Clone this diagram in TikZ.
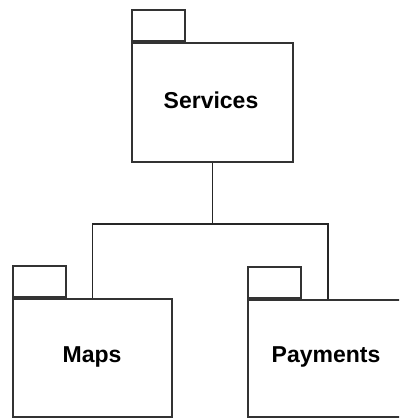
\documentclass[tikz,border=0pt]{standalone}
\usepackage{fontspec}
\setmainfont{Liberation Sans}
\begin{document}
\begin{tikzpicture}[x=1pt,y=-1pt,
  pkg/.style={draw=black!80, line width=1.7pt, rectangle, inner sep=0pt,
    font=\fontsize{23}{27}\selectfont\bfseries},
  lbl/.style={inner sep=0pt, font=\fontsize{23}{27}\selectfont\bfseries},
  tab/.style={draw=black!80, line width=1.7pt, rectangle, inner sep=0pt,
    minimum width=53pt, minimum height=31pt, anchor=south west},
  wire/.style={draw=black!85, line width=1.6pt}]
  \useasboundingbox (0,0) rectangle (399,419);
  \clip (0,0) rectangle (399,419);
  % package bodies
  \node[pkg, minimum width=161pt, minimum height=119pt] (serv) at (212.5,102.5) {};
  \node[pkg, minimum width=159pt, minimum height=118pt] (maps) at (92.5,358) {};
  \node[pkg, minimum width=160pt, minimum height=117pt] (pay) at (328,358.5) {};
  % package names
  \node[lbl] (servname) at (211,100) {Services};
  \node[lbl] (mapsname) at (92,357) {Maps};
  \node[lbl] (payname) at (326,357) {Payments};
  % package tabs
  \node[tab] (servtab) at (serv.north west) {};
  \node[tab] (mapstab) at (maps.north west) {};
  \node[tab] (paytab) at (pay.north west) {};
  % dependency tree
  \coordinate (bus) at (0,224);
  \draw[wire] (serv.south) -- (serv.south |- bus);
  \draw[wire] (maps.north) |- (bus -| pay.north) -- (pay.north);
\end{tikzpicture}
\end{document}
